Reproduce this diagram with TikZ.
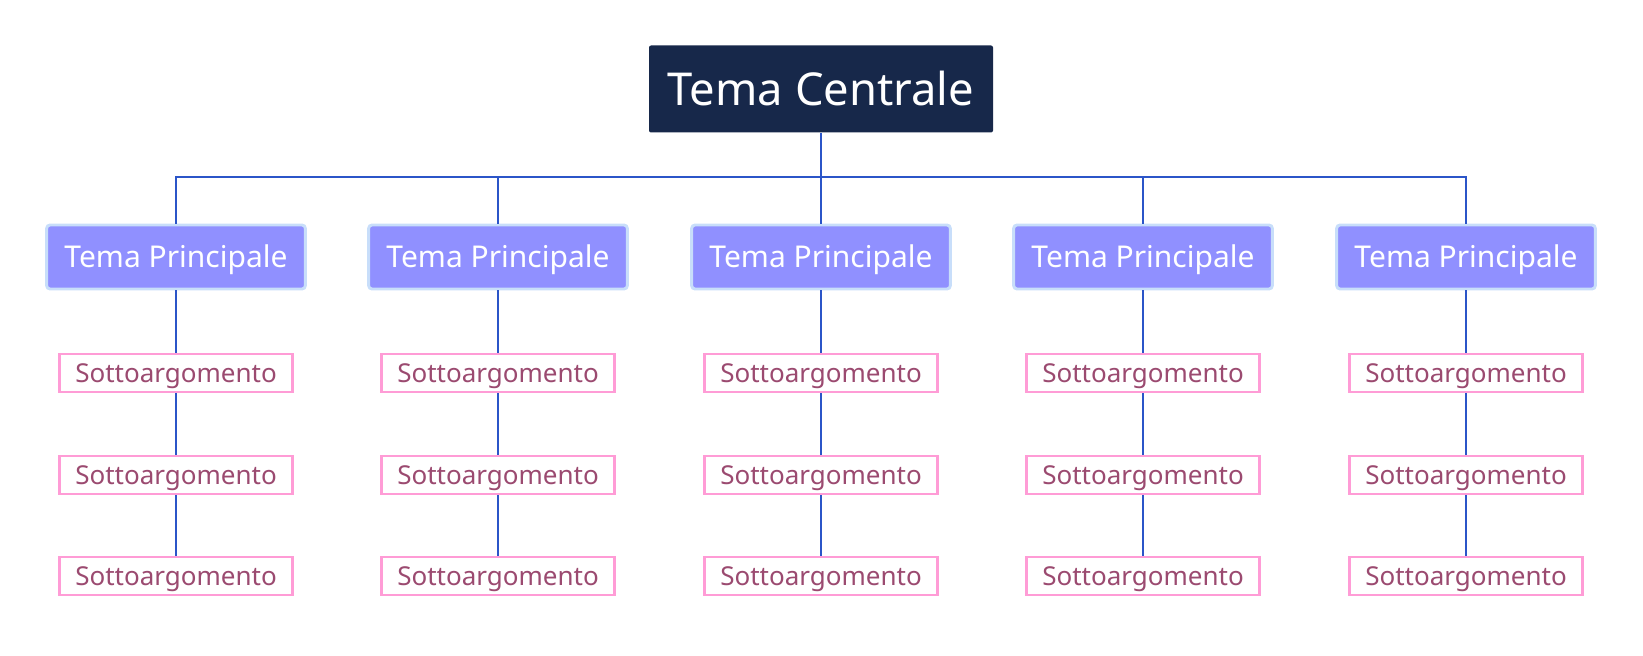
\documentclass[tikz,border=0pt]{standalone}
\usepackage{fontspec}
\setmainfont{Noto Sans}
\definecolor{navy}{HTML}{17284A}
\definecolor{mainfill}{HTML}{9090FF}
\definecolor{mainborder}{HTML}{C8DEFA}
\definecolor{subborder}{HTML}{FF9CD6}
\definecolor{subtext}{HTML}{9B4A70}
\definecolor{linecol}{HTML}{2B55C8}
\begin{document}
\begin{tikzpicture}[x=0.75pt,y=-0.75pt,
  central/.style={fill=navy,draw=none,rounded corners=1.5pt,minimum width=258pt,minimum height=65.25pt,
    inner sep=0pt,text height=24.3pt,text depth=0pt,text=white,font=\fontsize{34}{40}\selectfont},
  maintopic/.style={fill=mainfill,draw=mainborder,line width=2.2pt,rounded corners=2.5pt,minimum width=194pt,
    minimum height=48pt,inner sep=0pt,text height=16.1pt,text depth=0pt,text=white,font=\fontsize{22.5}{27}\selectfont},
  subtopic/.style={fill=white,draw=subborder,line width=1.9pt,minimum width=175pt,minimum height=28.5pt,
    inner sep=0pt,text height=13.9pt,text depth=0pt,text=subtext,font=\fontsize{19.5}{24}\selectfont},
  conn/.style={draw=linecol,line width=2pt}]
\useasboundingbox (0,0) rectangle (1643,656);
\node[central] (c) at (821,89) {Tema Centrale};
\coordinate (bus) at (821,177);
\foreach \i/\x in {1/176,2/498,3/821,4/1143,5/1466}{
  \node[maintopic] (m\i) at (\x,257) {Tema Principale};
  \node[subtopic] (s\i a) at (\x,373) {Sottoargomento};
  \node[subtopic] (s\i b) at (\x,475) {Sottoargomento};
  \node[subtopic] (s\i c) at (\x,576) {Sottoargomento};
}
\draw[conn] (c.south) -- (bus);
\draw[conn] (m1.north) |- (bus) -| (m5.north);
\foreach \i in {2,3,4}{
  \draw[conn] (m\i.north) -- (m\i.north |- bus);
}
\foreach \i in {1,...,5}{
  \draw[conn] (m\i.south) -- (s\i a.north);
  \draw[conn] (s\i a.south) -- (s\i b.north);
  \draw[conn] (s\i b.south) -- (s\i c.north);
}
\end{tikzpicture}
\end{document}
